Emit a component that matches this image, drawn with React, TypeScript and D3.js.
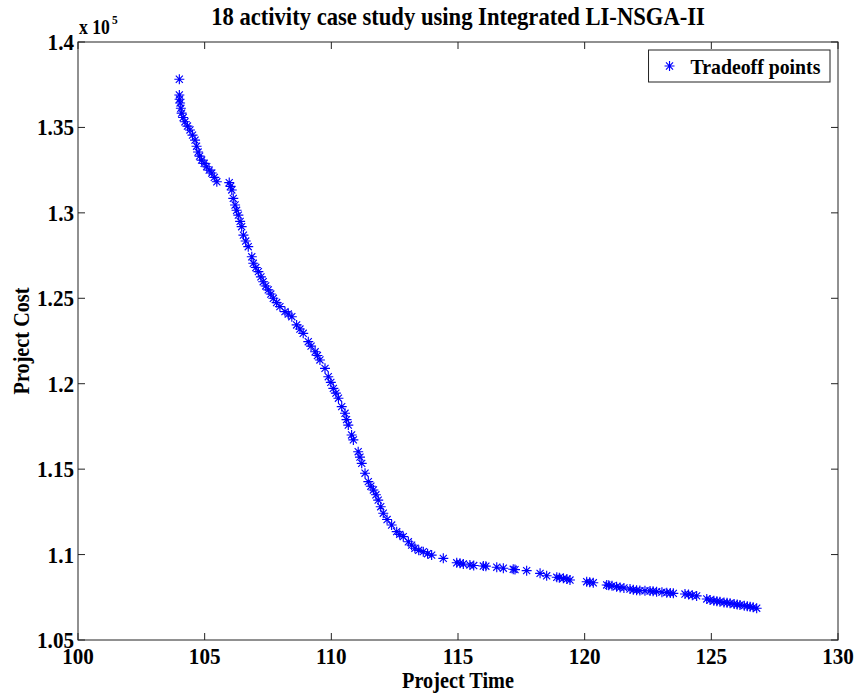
import React from "react";
import * as d3 from "d3";

const projectTime: number[] = [
  104.00, 104.00, 104.01, 104.03, 104.06, 104.09, 104.15, 104.22, 104.32, 104.42,
  104.52, 104.62, 104.68, 104.74, 104.80, 104.88, 104.98, 105.08, 105.18, 105.28,
  105.38, 105.48,
  105.97, 106.02, 106.07, 106.13, 106.20, 106.26, 106.33, 106.40, 106.46, 106.53,
  106.62, 106.72, 106.86, 106.92, 107.02, 107.12, 107.22, 107.31, 107.41, 107.51,
  107.61, 107.71, 107.84, 107.97, 108.17, 108.30, 108.44, 108.63, 108.76, 108.89,
  109.09, 109.20, 109.36, 109.45, 109.55, 109.75, 109.88, 109.98, 110.08, 110.18,
  110.28, 110.41, 110.54, 110.60, 110.67, 110.80, 110.87,
  111.06, 111.13, 111.20, 111.33, 111.46, 111.56, 111.66, 111.76, 111.85, 111.95,
  112.05, 112.20, 112.38, 112.58, 112.70, 112.84, 113.04, 113.17, 113.30, 113.45,
  113.63, 113.80, 113.96, 114.42, 114.95, 115.08, 115.21, 115.47, 115.62, 116.00,
  116.10, 116.53, 116.79, 117.18, 117.25, 117.71, 118.24, 118.50, 118.90, 119.00,
  119.16, 119.30, 119.42, 120.08, 120.20, 120.34, 120.87, 120.95, 121.08, 121.26,
  121.40, 121.55, 121.79, 121.92, 122.05, 122.18, 122.38, 122.58, 122.70, 122.84,
  123.05, 123.24, 123.38, 123.50, 123.96, 124.10, 124.25, 124.42, 124.82, 124.95,
  125.10, 125.22, 125.34, 125.50, 125.62, 125.74, 125.90, 126.02, 126.13, 126.30,
  126.42, 126.53, 126.65, 126.79,
];

// Project cost in units of 1e5
const projectCost: number[] = [
  1.3782, 1.3690, 1.3665, 1.3643, 1.3612, 1.3584, 1.3558, 1.3533, 1.3508, 1.3485,
  1.3455, 1.3426, 1.3390, 1.3356, 1.3332, 1.3309, 1.3290, 1.3270, 1.3250, 1.3233,
  1.3208, 1.3182,
  1.3177, 1.3155, 1.3134, 1.3085, 1.3046, 1.3015, 1.2987, 1.2950, 1.2919, 1.2870,
  1.2835, 1.2802, 1.2743, 1.2705, 1.2680, 1.2656, 1.2625, 1.2597, 1.2572, 1.2549,
  1.2525, 1.2500, 1.2475, 1.2451, 1.2422, 1.2408, 1.2392, 1.2344, 1.2320, 1.2295,
  1.2246, 1.2220, 1.2187, 1.2165, 1.2139, 1.2090, 1.2041, 1.2008, 1.1973, 1.1945,
  1.1915, 1.1866, 1.1827, 1.1790, 1.1758, 1.1700, 1.1671,
  1.1602, 1.1570, 1.1534, 1.1476, 1.1427, 1.1400, 1.1378, 1.1350, 1.1319, 1.1280,
  1.1242, 1.1205, 1.1173, 1.1134, 1.1118, 1.1105, 1.1075, 1.1055, 1.1037, 1.1025,
  1.1017, 1.1005, 1.0997, 1.0978, 1.0952, 1.0949, 1.0945, 1.0939, 1.0936, 1.0933,
  1.0932, 1.0926, 1.0920, 1.0914, 1.0912, 1.0906, 1.0890, 1.0876, 1.0867, 1.0865,
  1.0861, 1.0857, 1.0851, 1.0841, 1.0838, 1.0835, 1.0822, 1.0820, 1.0817, 1.0812,
  1.0808, 1.0805, 1.0798, 1.0794, 1.0791, 1.0789, 1.0788, 1.0787, 1.0785, 1.0783,
  1.0780, 1.0777, 1.0775, 1.0773, 1.0769, 1.0767, 1.0762, 1.0758, 1.0740, 1.0734,
  1.0730, 1.0727, 1.0724, 1.0720, 1.0718, 1.0715, 1.0711, 1.0708, 1.0705, 1.0701,
  1.0698, 1.0695, 1.0691, 1.0686,
];

const xTicks: number[] = [100, 105, 110, 115, 120, 125, 130];
const yTicks: number[] = [1.05, 1.1, 1.15, 1.2, 1.25, 1.3, 1.35, 1.4];
const yTickLabels: string[] = ["1.05", "1.1", "1.15", "1.2", "1.25", "1.3", "1.35", "1.4"];

const titleText = "18 activity case study using Integrated LI-NSGA-II";
const xLabel = "Project Time";
const yLabel = "Project Cost";
const legendLabel = "Tradeoff points";

const W = 855;
const H = 695;
const L = 78, R = 838, T = 42, B = 640;
const FONT = "'Liberation Serif', 'Times New Roman', serif";
const BLUE = "#0000ff";
const AX = "#222";

function Star({ cx, cy, r = 5 }: { cx: number; cy: number; r?: number }) {
  const d = r * Math.SQRT1_2;
  const p = `M${cx - r},${cy}L${cx + r},${cy}M${cx},${cy - r}L${cx},${cy + r}` +
    `M${cx - d},${cy - d}L${cx + d},${cy + d}M${cx - d},${cy + d}L${cx + d},${cy - d}`;
  return <path d={p} stroke={BLUE} strokeWidth={1.15} fill="none" />;
}

function CText({ x, y, size, sx = 0.88, anchor = "start", rotate = 0, children }:
  { x: number; y: number; size: number; sx?: number; anchor?: string; rotate?: number; children: React.ReactNode }) {
  return (
    <text transform={`translate(${x},${y}) rotate(${rotate}) scale(${sx},1)`} textAnchor={anchor}
      fontSize={size} fill="#000">{children}</text>
  );
}

export default function App() {
  const x = d3.scaleLinear().domain([100, 130]).range([L, R]);
  const y = d3.scaleLinear().domain([1.05, 1.4]).range([B, T]);
  const tl = 7;
  const legR = 830, legT = 50, legB = 82;
  const legFont = 22;
  const legSx = 0.9;
  const legTextW = 6.64 * legFont * legSx;
  const legTextX = legR - 8 - legTextW;
  const legL = legTextX - 42;
  return (
    <svg width={W} height={H} style={{ position: "absolute", left: 0, top: 0, background: "#fff" }}
      fontFamily={FONT} fontWeight="bold">
      <rect x={0} y={0} width={W} height={H} fill="#fff" />
      {xTicks.map((t, i) => (
        <g key={"xt" + i}>
          <line x1={x(t)} x2={x(t)} y1={B} y2={B - tl} stroke={AX} strokeWidth={1} />
          <line x1={x(t)} x2={x(t)} y1={T} y2={T + tl} stroke={AX} strokeWidth={1} />
          <CText x={x(t)} y={664} size={24} anchor="middle">{t}</CText>
        </g>
      ))}
      {yTicks.map((t, i) => (
        <g key={"yt" + i}>
          <line x1={L} x2={L + tl} y1={y(t)} y2={y(t)} stroke={AX} strokeWidth={1} />
          <line x1={R} x2={R - tl} y1={y(t)} y2={y(t)} stroke={AX} strokeWidth={1} />
          <CText x={74} y={y(t) + 8} size={24} anchor="end">{yTickLabels[i]}</CText>
        </g>
      ))}
      <rect x={L} y={T} width={R - L} height={B - T} fill="none" stroke={AX} strokeWidth={1} />
      <CText x={79} y={34} size={20}>x 10</CText>
      <CText x={112} y={24} size={13}>5</CText>
      {projectTime.map((t, i) => (
        <Star key={"p" + i} cx={x(t)} cy={y(projectCost[i])} />
      ))}
      <rect x={legL} y={legT} width={legR - legL} height={legB - legT} fill="#fff" stroke={AX} strokeWidth={1} />
      <Star cx={legL + 21} cy={(legT + legB) / 2} />
      <CText x={legTextX} y={(legT + legB) / 2 + 7.5} size={legFont} sx={legSx}>{legendLabel}</CText>
      <CText x={(L + R) / 2} y={25} size={26} sx={0.87} anchor="middle">{titleText}</CText>
      <CText x={(L + R) / 2} y={688} size={23} anchor="middle">{xLabel}</CText>
      <CText x={29} y={(T + B) / 2} size={23} rotate={-90} anchor="middle">{yLabel}</CText>
    </svg>
  );
}
